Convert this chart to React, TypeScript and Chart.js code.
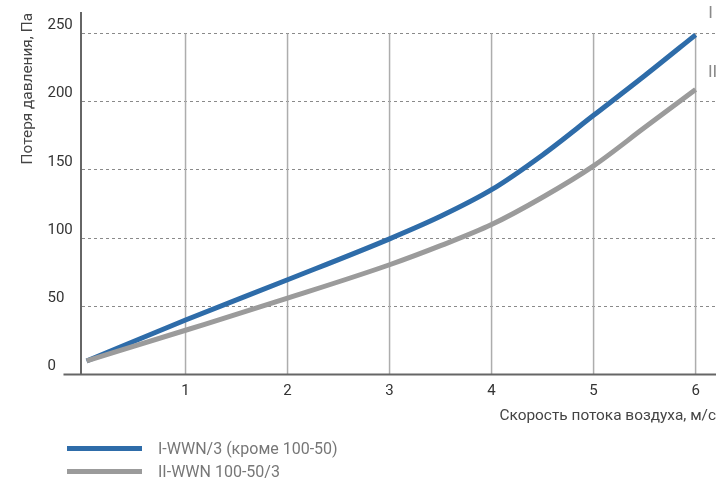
import React, { useEffect, useRef } from "react";
import { Chart, registerables } from "chart.js";

Chart.register(...registerables);

// ---- data ----
const speeds = [0.03, 1, 2, 3, 3.5, 4, 4.5, 5, 5.5, 6];
const lossI = [10, 40, 69.5, 99.5, 116, 135.5, 161, 190, 219, 249];
const lossII = [10, 32.5, 56, 80.5, 94.5, 110, 130, 153, 181, 209];
const xTicks = [1, 2, 3, 4, 5, 6];
const yTicks = [0, 50, 100, 150, 200, 250];
const seriesLabels = ["I-WWN/3 (кроме 100-50)", "II-WWN 100-50/3"];
const endMarks = ["I", "II"];
const xTitle = "Скорость потока воздуха, м/с";
const yTitle = "Потеря давления, Па";

const BLUE = "#2e6ca9";
const GRAY = "#9b9b9b";
const colors = [BLUE, GRAY];
const tickFont = "Roboto, sans-serif";
const textFont = "Roboto, 'Noto Sans', sans-serif";
const markOffsets = [
  { dx: 15, dy: -21 },
  { dx: 17, dy: -17 },
];

const decor = {
  id: "decor",
  beforeDatasetsDraw(chart: any) {
    const { ctx, chartArea, scales } = chart;
    const x = scales.x;
    const y = scales.y;
    const y0 = y.getPixelForValue(yTicks[0]);
    const yTop = y.getPixelForValue(yTicks[yTicks.length - 1]);
    ctx.save();
    ctx.strokeStyle = "#adadad";
    ctx.lineWidth = 1.5;
    xTicks.forEach((v) => {
      const px = x.getPixelForValue(v);
      ctx.beginPath();
      ctx.moveTo(px, y0);
      ctx.lineTo(px, yTop);
      ctx.stroke();
    });
    ctx.strokeStyle = "#666";
    ctx.lineWidth = 2;
    ctx.beginPath();
    ctx.moveTo(chartArea.left - 18, y0);
    ctx.lineTo(chartArea.right, y0);
    ctx.stroke();
    ctx.restore();
  },
  afterDatasetsDraw(chart: any) {
    const { ctx } = chart;
    ctx.save();
    ctx.fillStyle = "#8a8a8a";
    ctx.font = `17px ${textFont}`;
    ctx.textAlign = "center";
    ctx.textBaseline = "middle";
    chart.data.datasets.forEach((_: any, i: number) => {
      const meta = chart.getDatasetMeta(i);
      const last = meta.data[meta.data.length - 1];
      ctx.fillText(endMarks[i], last.x + markOffsets[i].dx, last.y + markOffsets[i].dy);
    });
    ctx.restore();
  },
};

export default function App() {
  const ref = useRef<HTMLCanvasElement>(null);

  useEffect(() => {
    if (!ref.current) return;
    const chart = new Chart(ref.current, {
      type: "line",
      data: {
        datasets: [lossI, lossII].map((vals, i) => ({
          label: seriesLabels[i],
          data: vals.map((v, k) => ({ x: speeds[k], y: v })),
          borderColor: colors[i],
          backgroundColor: colors[i],
          borderWidth: 5,
          pointRadius: 0,
          cubicInterpolationMode: "monotone" as const,
          clip: 10,
          order: -i,
        })),
      },
      options: {
        animation: false,
        responsive: false,
        events: [],
        layout: { padding: { left: 15, top: 13, right: 3, bottom: 57 } },
        plugins: { legend: { display: false }, tooltip: { enabled: false } },
        scales: {
          x: {
            type: "linear",
            min: -0.02,
            max: 6.2,
            ticks: {
              stepSize: 1,
              includeBounds: false,
              autoSkip: false,
              maxRotation: 0,
              padding: 8,
              color: "#333",
              font: { family: tickFont, size: 15 },
              callback: (v: any) => (xTicks.includes(v) ? String(v) : ""),
            },
            grid: { display: false, drawTicks: false },
            border: { display: false },
            title: {
              display: true,
              text: xTitle,
              align: "end",
              color: "#444",
              font: { family: textFont, size: 15.4, lineHeight: 1 },
              padding: { top: 0, bottom: 0 },
            },
          },
          y: {
            min: 0,
            max: 265,
            weight: 0,
            ticks: {
              stepSize: 50,
              includeBounds: false,
              crossAlign: "far",
              labelOffset: -8,
              padding: 0,
              color: "#333",
              font: { family: tickFont, size: 15 },
              callback: (v: any) => (yTicks.includes(v) ? String(v) : ""),
            },
            afterFit: (s: any) => {
              s.width = 34;
            },
            grid: {
              color: (c: any) => (c.tick && c.tick.value === 0 ? "rgba(0,0,0,0)" : "#8a8a8a"),
              lineWidth: 1,
              drawTicks: false,
            },
            border: { display: true, color: "#666", width: 2, dash: [3, 3] },
          },
          yTitleAxis: {
            type: "linear",
            position: "left",
            weight: 1,
            min: 0,
            max: 265,
            ticks: { display: false },
            grid: { display: false, drawTicks: false },
            border: { display: false },
            title: {
              display: true,
              text: yTitle,
              align: "end",
              color: "#444",
              font: { family: textFont, size: 15.4 },
              padding: { top: 4, bottom: 10 },
            },
          },
        },
      },
      plugins: [decor],
    } as any);
    return () => chart.destroy();
  }, []);

  return (
    <div style={{ position: "absolute", left: 0, top: 0, width: 719, height: 481, background: "#fff" }}>
      <canvas ref={ref} width={719} height={481} style={{ display: "block" }} />
      <div style={{ position: "absolute", left: 67, top: 437 }}>
        {seriesLabels.map((t, i) => (
          <div key={t} style={{ display: "flex", alignItems: "center", height: 23 }}>
            <div style={{ width: 75, height: 5, background: colors[i], marginRight: 16 }} />
            <span style={{ font: `16px ${textFont}`, color: "#777", whiteSpace: "nowrap" }}>{t}</span>
          </div>
        ))}
      </div>
    </div>
  );
}
